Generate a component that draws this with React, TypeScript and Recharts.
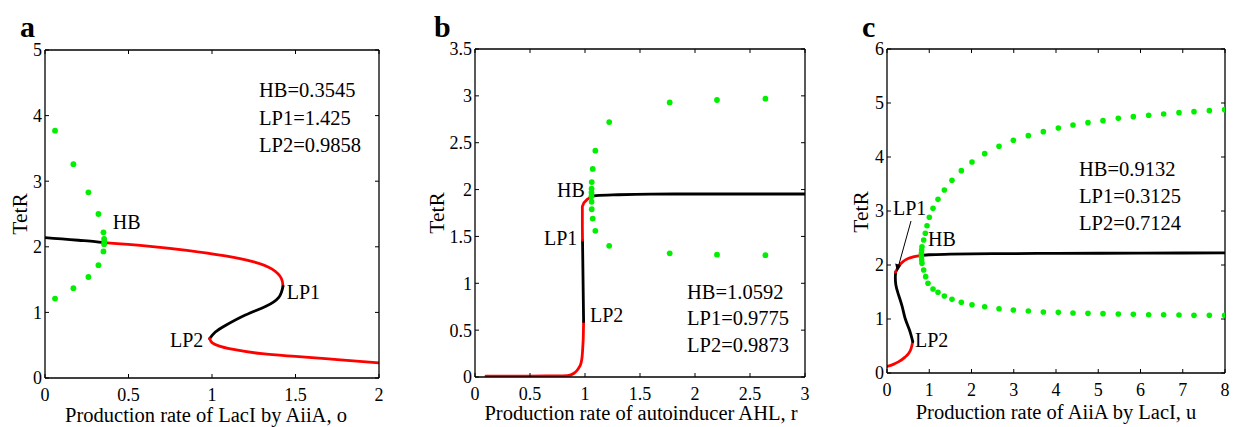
import React from 'react';
import { ComposedChart, Line, Scatter, XAxis, YAxis } from 'recharts';

const FONT = '"Liberation Serif", "Times New Roman", serif';
const RED = '#ff0000';
const BLACK = '#000000';
const GREEN = '#00f000';

type P = { x: number; y: number };

// ---------- Panel a ----------
const aXTicks = [0, 0.5, 1, 1.5, 2];
const aYTicks = [0, 1, 2, 3, 4, 5];
const aBlackUpper: P[] = [
  { x: 0, y: 2.14 }, { x: 0.1, y: 2.12 }, { x: 0.2, y: 2.1 }, { x: 0.3, y: 2.08 }, { x: 0.3545, y: 2.065 },
];
const aRedUpper: P[] = [
  { x: 0.3545, y: 2.065 }, { x: 0.6, y: 2.015 }, { x: 0.85, y: 1.945 }, { x: 1.08, y: 1.86 },
  { x: 1.25, y: 1.77 }, { x: 1.36, y: 1.66 }, { x: 1.415, y: 1.52 }, { x: 1.425, y: 1.4 },
];
const aBlackMiddle: P[] = [
  { x: 1.425, y: 1.4 }, { x: 1.4, y: 1.23 }, { x: 1.32, y: 1.09 }, { x: 1.2, y: 0.96 },
  { x: 1.08, y: 0.8 }, { x: 1.02, y: 0.7 }, { x: 0.9858, y: 0.6 },
];
const aRedLower: P[] = [
  { x: 0.9858, y: 0.6 }, { x: 1.0, y: 0.54 }, { x: 1.04, y: 0.49 }, { x: 1.12, y: 0.44 },
  { x: 1.3, y: 0.37 }, { x: 1.5, y: 0.33 }, { x: 1.75, y: 0.28 }, { x: 2.0, y: 0.23 },
];
const aOrbit: P[] = [
  { x: 0.06, y: 3.77 }, { x: 0.06, y: 1.21 }, { x: 0.17, y: 3.26 }, { x: 0.17, y: 1.37 },
  { x: 0.26, y: 2.83 }, { x: 0.26, y: 1.54 }, { x: 0.32, y: 2.5 }, { x: 0.32, y: 1.72 },
  { x: 0.35, y: 2.22 }, { x: 0.35, y: 1.93 }, { x: 0.354, y: 2.12 }, { x: 0.354, y: 2.04 },
  { x: 0.355, y: 2.08 },
];

// ---------- Panel b ----------
const bXTicks = [0, 0.5, 1, 1.5, 2, 2.5, 3];
const bYTicks = [0, 0.5, 1, 1.5, 2, 2.5, 3, 3.5];
const bRedLower: P[] = [
  { x: 0.1, y: 0.01 }, { x: 0.3, y: 0.01 }, { x: 0.5, y: 0.01 }, { x: 0.7, y: 0.012 },
  { x: 0.84, y: 0.015 }, { x: 0.9, y: 0.04 }, { x: 0.92, y: 0.06 }, { x: 0.945, y: 0.1 },
  { x: 0.964, y: 0.15 }, { x: 0.975, y: 0.23 }, { x: 0.98, y: 0.32 }, { x: 0.985, y: 0.45 },
  { x: 0.9873, y: 0.59 },
];
const bBlackMiddle: P[] = [
  { x: 0.9873, y: 0.59 }, { x: 0.9775, y: 1.46 },
];
const bRedMiddle: P[] = [
  { x: 0.9775, y: 1.46 }, { x: 0.976, y: 1.6 }, { x: 0.976, y: 1.82 }, { x: 0.99, y: 1.86 },
  { x: 1.02, y: 1.895 }, { x: 1.0592, y: 1.925 },
];
const bBlackUpper: P[] = [
  { x: 1.0592, y: 1.925 }, { x: 1.1, y: 1.935 }, { x: 1.3, y: 1.945 }, { x: 1.6, y: 1.952 },
  { x: 2.0, y: 1.953 }, { x: 3.0, y: 1.953 },
];
const bOrbit: P[] = [
  { x: 2.64, y: 2.97 }, { x: 2.64, y: 1.3 }, { x: 2.2, y: 2.956 }, { x: 2.2, y: 1.305 },
  { x: 1.77, y: 2.93 }, { x: 1.77, y: 1.32 }, { x: 1.22, y: 2.72 }, { x: 1.22, y: 1.4 },
  { x: 1.094, y: 2.415 }, { x: 1.094, y: 1.56 }, { x: 1.07, y: 2.22 }, { x: 1.07, y: 1.69 },
  { x: 1.061, y: 2.08 }, { x: 1.061, y: 1.79 }, { x: 1.06, y: 2.01 }, { x: 1.06, y: 1.87 },
  { x: 1.059, y: 1.97 }, { x: 1.059, y: 1.93 },
];

// ---------- Panel c ----------
const cXTicks = [0, 1, 2, 3, 4, 5, 6, 7, 8];
const cYTicks = [0, 1, 2, 3, 4, 5, 6];
const cRedLower: P[] = [
  { x: 0, y: 0.12 }, { x: 0.15, y: 0.16 }, { x: 0.28, y: 0.21 }, { x: 0.42, y: 0.29 },
  { x: 0.51, y: 0.36 }, { x: 0.57, y: 0.45 }, { x: 0.61, y: 0.58 },
];
const cBlackMiddle: P[] = [
  { x: 0.61, y: 0.58 }, { x: 0.53, y: 0.8 }, { x: 0.43, y: 1.01 }, { x: 0.36, y: 1.23 },
  { x: 0.26, y: 1.48 }, { x: 0.21, y: 1.63 }, { x: 0.197, y: 1.76 }, { x: 0.205, y: 1.87 },
];
const cRedUpper: P[] = [
  { x: 0.205, y: 1.87 }, { x: 0.28, y: 1.98 }, { x: 0.39, y: 2.07 }, { x: 0.5, y: 2.12 },
  { x: 0.62, y: 2.15 }, { x: 0.83, y: 2.18 },
];
const cBlackUpper: P[] = [
  { x: 0.83, y: 2.18 }, { x: 1.0, y: 2.19 }, { x: 1.5, y: 2.2 }, { x: 2.5, y: 2.21 },
  { x: 4, y: 2.215 }, { x: 6, y: 2.22 }, { x: 8, y: 2.225 },
];
const cOrbitMax: P[] = [
  { x: 0.828, y: 2.339 }, { x: 0.868, y: 2.463 }, { x: 0.907, y: 2.587 }, { x: 0.947, y: 2.728 },
  { x: 1.002, y: 2.883 }, { x: 1.089, y: 3.049 }, { x: 1.207, y: 3.216 }, { x: 1.357, y: 3.389 },
  { x: 1.538, y: 3.568 }, { x: 1.759, y: 3.747 }, { x: 2.012, y: 3.907 }, { x: 2.312, y: 4.062 },
  { x: 2.651, y: 4.198 }, { x: 2.99, y: 4.309 }, { x: 3.345, y: 4.395 }, { x: 3.7, y: 4.469 },
  { x: 4.055, y: 4.537 }, { x: 4.402, y: 4.593 }, { x: 4.757, y: 4.636 }, { x: 5.112, y: 4.673 },
  { x: 5.475, y: 4.716 }, { x: 5.83, y: 4.747 }, { x: 6.193, y: 4.772 }, { x: 6.548, y: 4.796 },
  { x: 6.911, y: 4.821 }, { x: 7.266, y: 4.84 }, { x: 7.629, y: 4.858 }, { x: 7.992, y: 4.877 },
];
const cOrbitNearHB: P[] = [
  { x: 0.82, y: 2.277 }, { x: 0.815, y: 2.215 }, { x: 0.815, y: 2.154 }, { x: 0.82, y: 2.092 },
];
const cOrbitMin: P[] = [
  { x: 0.828, y: 2.031 }, { x: 0.868, y: 1.907 }, { x: 0.915, y: 1.784 }, { x: 0.97, y: 1.661 },
  { x: 1.089, y: 1.556 }, { x: 1.207, y: 1.494 }, { x: 1.357, y: 1.426 }, { x: 1.538, y: 1.364 },
  { x: 1.759, y: 1.309 }, { x: 2.012, y: 1.265 }, { x: 2.312, y: 1.228 }, { x: 2.651, y: 1.191 },
  { x: 2.99, y: 1.167 }, { x: 3.345, y: 1.148 }, { x: 3.7, y: 1.13 }, { x: 4.055, y: 1.123 },
  { x: 4.402, y: 1.111 }, { x: 4.757, y: 1.105 }, { x: 5.112, y: 1.099 }, { x: 5.475, y: 1.093 },
  { x: 5.83, y: 1.086 }, { x: 6.193, y: 1.08 }, { x: 6.548, y: 1.08 }, { x: 6.911, y: 1.074 },
  { x: 7.266, y: 1.068 }, { x: 7.629, y: 1.068 }, { x: 7.992, y: 1.068 },
];

type Seg = { data: P[]; color: string; curve: any };

type PanelProps = {
  left: number;
  width: number;
  plot: { left: number; top: number; right: number; bottom: number };
  xDomain: [number, number];
  yDomain: [number, number];
  xTicks: number[];
  yTicks: number[];
  segments: Seg[];
  dots: P[];
  dotR: number;
};

const Y_W = 40;
const X_H = 30;
const axisLineStyle = { stroke: BLACK, strokeWidth: 1.3 };
const tickLineStyle = { stroke: BLACK, strokeWidth: 1 };
const tickFont = { fontFamily: FONT, fontSize: 18, fill: BLACK };

function Panel(props: PanelProps) {
  const { left, width, plot, xDomain, yDomain, xTicks, yTicks, segments, dots, dotR } = props;
  const H = 427;
  const margin = {
    left: plot.left - left - Y_W,
    right: left + width - plot.right - 1,
    top: plot.top - 1,
    bottom: H - plot.bottom - X_H,
  };
  return (
    <div style={{ position: 'absolute', left, top: 0, width, height: H }}>
      <ComposedChart width={width} height={H} margin={margin}>
        <XAxis
          dataKey="x" type="number" domain={xDomain} ticks={xTicks} interval={0}
          height={X_H} tickSize={-4} tickMargin={14} axisLine={axisLineStyle}
          tickLine={tickLineStyle} tick={tickFont} allowDataOverflow
        />
        <XAxis
          xAxisId="top" orientation="top" dataKey="x" type="number" domain={xDomain} ticks={xTicks}
          interval={0} height={1} tickSize={-4} axisLine={axisLineStyle} tickLine={tickLineStyle}
          tickFormatter={() => ''} allowDataOverflow
        />
        <YAxis
          dataKey="y" type="number" domain={yDomain} ticks={yTicks} interval={0}
          width={Y_W} tickSize={-4} tickMargin={7} axisLine={axisLineStyle}
          tickLine={tickLineStyle} tick={tickFont} allowDataOverflow
        />
        <YAxis
          yAxisId="right" orientation="right" dataKey="y" type="number" domain={yDomain} ticks={yTicks}
          interval={0} width={1} tickSize={-4} axisLine={axisLineStyle} tickLine={tickLineStyle}
          tickFormatter={() => ''} allowDataOverflow
        />
        {segments.map((s, i) => (
          <Line
            key={i} data={s.data} dataKey="y" type={s.curve} stroke={s.color} strokeWidth={2.8}
            dot={false} activeDot={false} isAnimationActive={false} strokeLinecap="round"
          />
        ))}
        <Scatter
          data={dots} dataKey="y" isAnimationActive={false}
          shape={(p: any) => <circle cx={p.cx} cy={p.cy} r={dotR} fill={GREEN} />}
        />
      </ComposedChart>
    </div>
  );
}

const T = (p: { x: number; y: number; s?: number; bold?: boolean; anchor?: string; children: string; rot?: boolean }) => (
  <text
    x={p.x}
    y={p.y}
    fontFamily={FONT}
    fontSize={p.s ?? 20.5}
    fontWeight={p.bold ? 'bold' : 'normal'}
    textAnchor={(p.anchor as any) ?? 'start'}
    dominantBaseline={p.rot ? 'central' : 'auto'}
    transform={p.rot ? `rotate(-90 ${p.x} ${p.y})` : undefined}
    fill={BLACK}
  >
    {p.children}
  </text>
);

export default function App() {
  return (
    <div style={{ position: 'absolute', left: 0, top: 0, width: 1233, height: 427, background: '#fff', overflow: 'hidden' }}>
      <Panel
        left={0} width={411}
        plot={{ left: 45, top: 50, right: 379, bottom: 378 }}
        xDomain={[0, 2]} yDomain={[0, 5]} xTicks={aXTicks} yTicks={aYTicks}
        segments={[
          { data: aBlackUpper, color: BLACK, curve: 'monotone' },
          { data: aRedUpper, color: RED, curve: 'natural' },
          { data: aBlackMiddle, color: BLACK, curve: 'natural' },
          { data: aRedLower, color: RED, curve: 'natural' },
        ]}
        dots={aOrbit} dotR={2.9}
      />
      <Panel
        left={411} width={411}
        plot={{ left: 475, top: 49, right: 805, bottom: 377 }}
        xDomain={[0, 3]} yDomain={[0, 3.5]} xTicks={bXTicks} yTicks={bYTicks}
        segments={[
          { data: bRedLower, color: RED, curve: 'monotone' },
          { data: bBlackMiddle, color: BLACK, curve: 'linear' },
          { data: bRedMiddle, color: RED, curve: 'linear' },
          { data: bBlackUpper, color: BLACK, curve: 'monotone' },
        ]}
        dots={bOrbit} dotR={2.9}
      />
      <Panel
        left={822} width={411}
        plot={{ left: 887, top: 49, right: 1225, bottom: 373 }}
        xDomain={[0, 8]} yDomain={[0, 6]} xTicks={cXTicks} yTicks={cYTicks}
        segments={[
          { data: cRedLower, color: RED, curve: 'monotone' },
          { data: cBlackMiddle, color: BLACK, curve: 'natural' },
          { data: cRedUpper, color: RED, curve: 'monotone' },
          { data: cBlackUpper, color: BLACK, curve: 'monotone' },
        ]}
        dots={[...cOrbitMax, ...cOrbitNearHB, ...cOrbitMin]} dotR={2.8}
      />
      <svg width={1233} height={427} style={{ position: 'absolute', left: 0, top: 0, pointerEvents: 'none' }}>
        {/* panel letters */}
        <T x={20} y={37} s={30} bold>a</T>
        <T x={434} y={37} s={30} bold>b</T>
        <T x={862} y={37} s={30} bold>c</T>
        {/* y titles */}
        <T x={20} y={214} s={21.5} anchor="middle" rot>TetR</T>
        <T x={437} y={213} s={21.5} anchor="middle" rot>TetR</T>
        <T x={861} y={212} s={21.5} anchor="middle" rot>TetR</T>
        {/* x titles */}
        <T x={206} y={421.5} anchor="middle">Production rate of LacI by AiiA, o</T>
        <T x={641} y={420} anchor="middle">Production rate of autoinducer AHL, r</T>
        <T x={1056} y={418.5} anchor="middle">Production rate of AiiA by LacI, u</T>
        {/* annotations a */}
        <T x={259} y={97}>HB=0.3545</T>
        <T x={259} y={124.5}>LP1=1.425</T>
        <T x={259} y={152}>LP2=0.9858</T>
        <T x={112.7} y={229} s={20}>HB</T>
        <T x={286.7} y={299} s={20}>LP1</T>
        <T x={170} y={347} s={20}>LP2</T>
        {/* annotations b */}
        <T x={687} y={298.5}>HB=1.0592</T>
        <T x={687} y={325}>LP1=0.9775</T>
        <T x={687} y={352}>LP2=0.9873</T>
        <T x={557} y={197} s={20}>HB</T>
        <T x={544} y={245} s={20}>LP1</T>
        <T x={590} y={322} s={20}>LP2</T>
        {/* annotations c */}
        <T x={1079} y={176}>HB=0.9132</T>
        <T x={1079} y={203}>LP1=0.3125</T>
        <T x={1079} y={230}>LP2=0.7124</T>
        <T x={893} y={215} s={20}>LP1</T>
        <T x={928} y={246} s={20}>HB</T>
        <T x={915} y={347} s={20}>LP2</T>
        <line x1={911} y1={221} x2={898.5} y2={266} stroke={BLACK} strokeWidth={1} />
        <polygon points="897,272 895.2,263.5 901.2,265.2" fill={BLACK} />
      </svg>
    </div>
  );
}
